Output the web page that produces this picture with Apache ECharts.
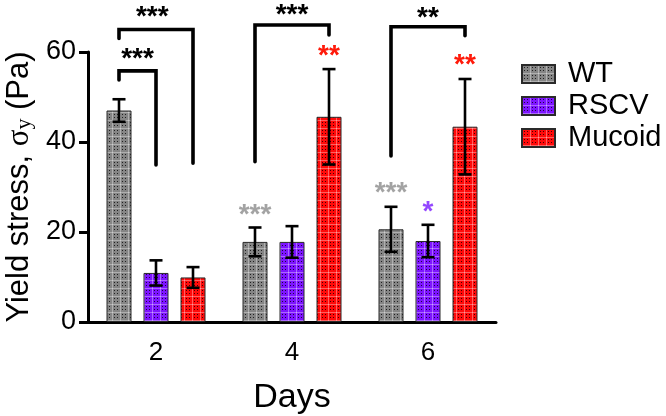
<!DOCTYPE html>
<html>
<head>
<meta charset="utf-8">
<script src="https://cdn.jsdelivr.net/npm/echarts@6/dist/echarts.min.js"></script>
<style>html,body{margin:0;padding:0;background:#fff;}#c{width:666px;height:416px;}</style>
</head>
<body>
<div id="c"></div>
<script>
// ---- data ----
const categories = ['2', '4', '6'];
const seriesNames = ['WT', 'RSCV', 'Mucoid'];
const wtMean = [47.0, 17.8, 20.6];
const wtErr = [2.5, 3.2, 5.0];
const rscvMean = [10.9, 17.8, 18.0];
const rscvErr = [2.8, 3.5, 3.6];
const mucoidMean = [9.9, 45.6, 43.4];
const mucoidErr = [2.3, 10.6, 10.6];
const yTicks = [0, 20, 40, 60];
// brackets: [category, fromBar, toBar, topValue, leftBottomValue, rightBottomValue]
const brackets = [
  [0, 0, 1, 55.8, 53.8, 34.9],
  [0, 0, 2, 65.0, 63.0, 35.3],
  [1, 0, 2, 66.0, 35.6, 63.8],
  [2, 0, 2, 65.6, 36.9, 63.6]
];
// significance marks: [category, barPosition, value, text, group]
const stars = [
  [0, 0.5, 60.0, '***', 'all'],
  [0, 0.9, 69.2, '***', 'all'],
  [1, 1, 69.7, '***', 'all'],
  [2, 1, 69.1, '**', 'all'],
  [1, 2, 60.6, '**', 'Mucoid'],
  [2, 2, 58.6, '**', 'Mucoid'],
  [1, 0, 25.3, '***', 'WT'],
  [2, 0, 30.2, '***', 'WT'],
  [2, 1, 26.0, '*', 'RSCV']
];

// ---- styles ----
const baseColors = ['#858585', '#7d14ff', '#ff0a0a'];
const starColors = {all: '#000', WT: '#a3a3a3', RSCV: '#9447ff', Mucoid: '#ff1a0a'};
const BAR_W = 25, GAP = 12;
const STEP = BAR_W + GAP;
const barOffset = i => (i - 1) * STEP;
const SANS = '"Liberation Sans", Arial, sans-serif';
const SERIF = '"Liberation Serif", "Times New Roman", serif';

function makePattern(base) {
  const c = document.createElement('canvas');
  c.width = 8; c.height = 8;
  const g = c.getContext('2d');
  g.fillStyle = base; g.fillRect(0, 0, 8, 8);
  g.fillStyle = 'rgba(255,255,255,0.35)';
  g.fillRect(0, 0, 8, 1); g.fillRect(0, 0, 1, 8);
  g.fillStyle = 'rgba(0,0,0,0.75)';
  [[2, 2], [5, 2], [2, 5], [5, 5]].forEach(p => g.fillRect(p[0], p[1], 1, 1));
  return {image: c, repeat: 'repeat'};
}

const means = [wtMean, rscvMean, mucoidMean];
const errs = [wtErr, rscvErr, mucoidErr];

const series = [];
seriesNames.forEach((name, i) => {
  series.push({
    name: name, type: 'bar', barWidth: BAR_W, barGap: (GAP / BAR_W * 100) + '%',
    data: means[i],
    itemStyle: {color: makePattern(baseColors[i]), borderColor: '#2a2a2a', borderWidth: 1},
    z: 2
  });
});
seriesNames.forEach((name, i) => {
  series.push({
    type: 'custom', z: 5, silent: true,
    data: means[i].map((m, k) => [k, m - errs[i][k], m + errs[i][k]]),
    renderItem: function (params, api) {
      const lo = api.coord([api.value(0), api.value(1)]);
      const hi = api.coord([api.value(0), api.value(2)]);
      const x = lo[0] + barOffset(i);
      const st = {stroke: '#000', lineWidth: 2.6};
      return {type: 'group', children: [
        {type: 'line', shape: {x1: x, y1: lo[1], x2: x, y2: hi[1]}, style: st},
        {type: 'line', shape: {x1: x - 6.5, y1: lo[1], x2: x + 6.5, y2: lo[1]}, style: st},
        {type: 'line', shape: {x1: x - 6.5, y1: hi[1], x2: x + 6.5, y2: hi[1]}, style: st}
      ]};
    }
  });
});
series.push({
  type: 'custom', z: 6, silent: true, clip: false,
  data: brackets,
  renderItem: function (params, api) {
    const cat = api.value(0);
    const top = api.coord([cat, api.value(3)]);
    const lb = api.coord([cat, api.value(4)]);
    const rb = api.coord([cat, api.value(5)]);
    const xl = top[0] + barOffset(api.value(1));
    const xr = top[0] + barOffset(api.value(2));
    return {type: 'polyline', shape: {points: [[xl, lb[1]], [xl, top[1]], [xr, top[1]], [xr, rb[1]]]},
      style: {stroke: '#000', lineWidth: 3.6, fill: null, lineCap: 'round', lineJoin: 'miter'}};
  }
});
series.push({
  type: 'custom', z: 7, silent: true, clip: false,
  data: stars.map(s => [s[0], s[1], s[2]]),
  renderItem: function (params, api) {
    const s = stars[params.dataIndex];
    const p = api.coord([api.value(0), api.value(2)]);
    return {type: 'text', x: p[0] + barOffset(api.value(1)), y: p[1] + 7,
      style: {text: s[3], fill: starColors[s[4]], font: 'bold 28px ' + SANS,
        align: 'center', verticalAlign: 'middle'}};
  }
});

const chart = echarts.init(document.getElementById('c'), null, {renderer: 'canvas'});
chart.setOption({
  animation: false,
  backgroundColor: '#fff',
  grid: {left: 88, right: 170, top: 52, bottom: 94, containLabel: false, outerBoundsMode: 'none'},
  legend: {
    data: seriesNames, orient: 'vertical', left: 516, top: 54, itemWidth: 33, itemHeight: 18, itemGap: 2,
    icon: 'rect',
    textStyle: {fontSize: 29, color: '#000', fontFamily: SANS, padding: [0, 0, 0, 8], lineHeight: 30}
  },
  xAxis: {
    type: 'category', data: categories,
    axisLine: {lineStyle: {color: '#000', width: 3}},
    axisTick: {alignWithLabel: true, length: 10, lineStyle: {color: '#000', width: 3}},
    axisLabel: {fontSize: 26, color: '#000', margin: 18, fontFamily: SANS},
    name: 'Days', nameLocation: 'middle', nameGap: 59,
    nameTextStyle: {fontSize: 34, color: '#000', fontFamily: SANS}
  },
  yAxis: {
    type: 'value', min: yTicks[0], max: yTicks[yTicks.length - 1], interval: yTicks[1] - yTicks[0],
    splitLine: {show: false},
    axisLine: {show: true, lineStyle: {color: '#000', width: 3}},
    axisTick: {show: true, length: 9, lineStyle: {color: '#000', width: 3}},
    axisLabel: {fontSize: 27, color: '#000', margin: 12, fontFamily: SANS},
    name: '{a|Yield stress, }{s|σ}{sub|y}{a| (Pa)}', nameLocation: 'middle', nameGap: 49,
    nameTextStyle: {
      rich: {
        a: {fontSize: 31, color: '#000', fontFamily: SANS},
        s: {fontSize: 31, color: '#000', fontFamily: SERIF},
        sub: {fontSize: 22, color: '#000', fontFamily: SERIF, verticalAlign: 'bottom', padding: [6, 0, 0, 0]}
      }
    }
  },
  series: series
});
</script>
</body>
</html>
